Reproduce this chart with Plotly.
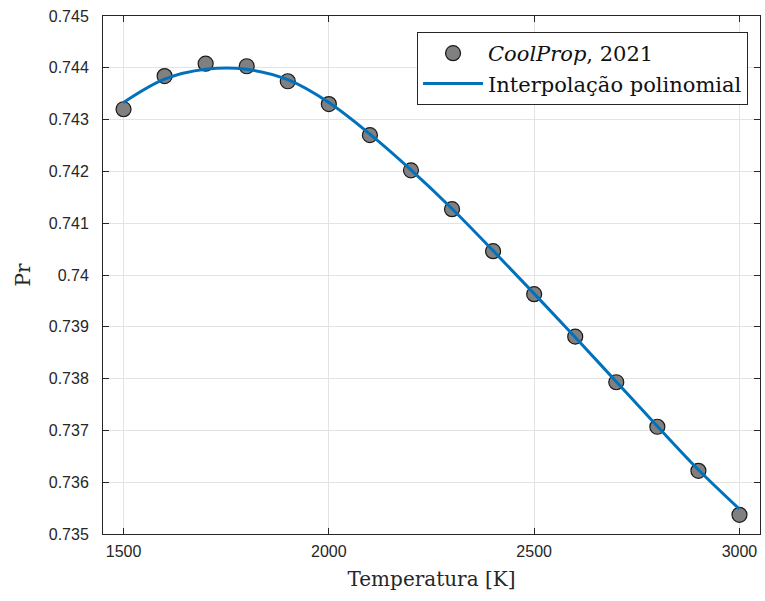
import plotly.graph_objects as go

# CoolProp Prandtl number samples
temperature_k = [1500, 1600, 1700, 1800, 1900, 2000, 2100, 2200,
                 2300, 2400, 2500, 2600, 2700, 2800, 2900, 3000]
prandtl_coolprop = [0.74320, 0.74384, 0.74408, 0.74403, 0.74374, 0.74330,
                    0.74270, 0.74202, 0.74127, 0.74046, 0.73963, 0.73881,
                    0.73793, 0.73707, 0.73622, 0.73537]

# Polynomial interpolation curve evaluated at the same temperatures
fit_temperature_k = [1500, 1600, 1700, 1800, 1900, 2000, 2100, 2200,
                     2300, 2400, 2500, 2600, 2700, 2800, 2900, 3000]
prandtl_fit = [0.74333, 0.74378, 0.74397, 0.74397, 0.74377, 0.74333,
               0.74272, 0.74203, 0.74128, 0.74047, 0.73964, 0.73880,
               0.73794, 0.73708, 0.73624, 0.73548]

x_ticks = [1500, 2000, 2500, 3000]
y_ticks = [0.735, 0.736, 0.737, 0.738, 0.739, 0.740,
           0.741, 0.742, 0.743, 0.744, 0.745]
y_tick_text = ["0.735", "0.736", "0.737", "0.738", "0.739", "0.74",
               "0.741", "0.742", "0.743", "0.744", "0.745"]

AXIS_COLOR = "#262626"
GRID_COLOR = "#e3e3e3"
SERIF = "DejaVu Serif, Liberation Serif, serif"
SANS = "Liberation Sans, Arial, sans-serif"

fig = go.Figure()

fig.add_trace(go.Scatter(
    x=temperature_k, y=prandtl_coolprop,
    mode="markers",
    name="<i>CoolProp</i>, 2021",
    marker=dict(size=15, color="#808080",
                line=dict(color="#1a1a1a", width=1.2)),
))

fig.add_trace(go.Scatter(
    x=fit_temperature_k, y=prandtl_fit,
    mode="lines",
    name="Interpolação polinomial",
    line=dict(color="#0072BD", width=3, shape="spline", smoothing=1.0),
))

axis_common = dict(
    showline=True, linecolor=AXIS_COLOR, linewidth=1,
    mirror="ticks", ticks="inside", ticklen=6, tickcolor=AXIS_COLOR,
    showgrid=True, gridcolor=GRID_COLOR, gridwidth=1,
    zeroline=False,
    tickfont=dict(family=SANS, size=16, color=AXIS_COLOR),
)

fig.update_xaxes(
    range=[1450, 3050], tickvals=x_ticks,
    ticklabelstandoff=3,
    title=dict(text="Temperatura [K]",
               font=dict(family=SERIF, size=20, color=AXIS_COLOR),
               standoff=12),
    **axis_common,
)
fig.update_yaxes(
    range=[0.735, 0.745], tickvals=y_ticks, ticktext=y_tick_text,
    ticklabelstandoff=10,
    title=dict(text="Pr",
               font=dict(family=SERIF, size=20, color=AXIS_COLOR),
               standoff=12),
    **axis_common,
)

fig.update_layout(
    width=765, height=601,
    margin=dict(l=103, r=5, t=16, b=67),
    plot_bgcolor="white", paper_bgcolor="white",
    showlegend=True,
    legend=dict(
        x=0.478, y=0.969, xanchor="left", yanchor="top",
        bgcolor="white", bordercolor=AXIS_COLOR, borderwidth=1,
        font=dict(family=SERIF, size=21, color="#111111"),
        itemwidth=60, tracegroupgap=0,
    ),
)

fig.write_html("out.html")
